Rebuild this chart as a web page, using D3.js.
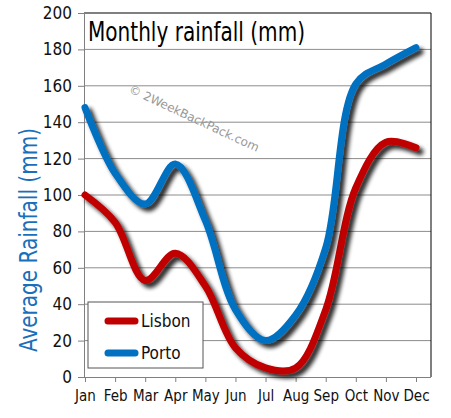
<!DOCTYPE html>
<html><head><meta charset="utf-8">
<script src="https://cdn.jsdelivr.net/npm/d3@7"></script>
<style>body{margin:0;background:#fff}svg{display:block}</style>
</head><body>
<svg id="c" width="451" height="418"></svg>
<script>
const months = ["Jan","Feb","Mar","Apr","May","Jun","Jul","Aug","Sep","Oct","Nov","Dec"];
const lisbon = [100, 85, 53, 68, 50, 16, 5, 5, 37, 104, 129, 126];
const porto  = [148, 112, 95, 117, 86, 37, 20, 34, 71, 161, 172, 181];
const yTicks = [0,20,40,60,80,100,120,140,160,180,200];
const seriesNames = ["Lisbon","Porto"];
const colors = ["#C00000","#0070C0"];

const svg = d3.select("#c");
const L = 84, R = 431, T = 13, B = 377;
const x = d3.scalePoint().domain(months).range([85, 416]);
const y = d3.scaleLinear().domain([0,200]).range([B, T]);
const font = "'DejaVu Sans Condensed','DejaVu Sans',sans-serif";

const defs = svg.append("defs");
const f = defs.append("filter").attr("id","sh").attr("x","-20%").attr("y","-20%").attr("width","140%").attr("height","140%");
f.append("feGaussianBlur").attr("in","SourceAlpha").attr("stdDeviation",2.2).attr("result","b");
f.append("feOffset").attr("in","b").attr("dx",4).attr("dy",4).attr("result","o");
f.append("feComponentTransfer").attr("in","o").attr("result","o2")
  .append("feFuncA").attr("type","linear").attr("slope",0.85);
const m = f.append("feMerge");
m.append("feMergeNode").attr("in","o2");
m.append("feMergeNode").attr("in","SourceGraphic");

// gridlines
svg.append("g").selectAll("line").data(yTicks.filter(d=>d>0 && d<200)).join("line")
  .attr("x1",L).attr("x2",R).attr("y1",d=>y(d)).attr("y2",d=>y(d))
  .attr("stroke","#8c8c8c").attr("stroke-width",1);

// border top/right
svg.append("line").attr("x1",L).attr("x2",R).attr("y1",y(200)).attr("y2",y(200)).attr("stroke","#000");
svg.append("line").attr("x1",R).attr("x2",R).attr("y1",y(200)).attr("y2",B).attr("stroke","#000");

// y axis
const ya = svg.append("g").attr("transform",`translate(${L},0)`)
  .call(d3.axisLeft(y).tickValues(yTicks).tickSize(6).tickPadding(6));
ya.select(".domain").attr("stroke","#808080");
ya.selectAll(".tick line").attr("stroke","#808080");
ya.selectAll("text").attr("font-family",font).attr("font-size",17).attr("fill","#111");

// x axis
const xa = svg.append("g").attr("transform",`translate(0,${B})`)
  .call(d3.axisBottom(x).tickSize(5).tickPadding(8));
xa.select(".domain").attr("d",`M${L},0.5H${R}`).attr("stroke","#808080");
xa.selectAll(".tick line").attr("stroke","#808080");
xa.selectAll("text").attr("font-family",font).attr("font-size",15).attr("fill","#111");

// watermark
svg.append("text").attr("transform","translate(128,92) rotate(25)")
  .attr("font-family","'DejaVu Sans',sans-serif").attr("font-size",12).attr("fill","#999")
  .attr("textLength",142).attr("lengthAdjust","spacingAndGlyphs")
  .text("© 2WeekBackPack.com");

// title
svg.append("text").attr("x",88).attr("y",41).attr("font-family",font).attr("font-size",26)
  .attr("fill","#000").attr("textLength",217).attr("lengthAdjust","spacingAndGlyphs")
  .text("Monthly rainfall (mm)");

// y axis title
svg.append("text").attr("transform","translate(37,240) rotate(-90)").attr("text-anchor","middle")
  .attr("font-family",font).attr("font-size",25).attr("fill","#1a6fbb")
  .attr("textLength",224).attr("lengthAdjust","spacingAndGlyphs")
  .text("Average Rainfall (mm)");

// lines
const line = d3.line().x((d,i)=>x(months[i])).y(d=>y(d)).curve(d3.curveCatmullRom.alpha(0.5));
[lisbon, porto].forEach((s,k)=>{
  svg.append("path").datum(s).attr("d",line).attr("fill","none")
    .attr("stroke",colors[k]).attr("stroke-width",7).attr("stroke-linecap","round")
    .attr("stroke-linejoin","round").attr("filter","url(#sh)");
});

// legend
const lg = svg.append("g");
lg.append("rect").attr("x",88).attr("y",302).attr("width",115).attr("height",66)
  .attr("fill","#fff").attr("stroke","#555").attr("stroke-width",1);
seriesNames.forEach((n,k)=>{
  const yy = 321 + k*32;
  lg.append("line").attr("x1",108).attr("x2",135).attr("y1",yy).attr("y2",yy)
    .attr("stroke",colors[k]).attr("stroke-width",7).attr("stroke-linecap","round");
  lg.append("text").attr("x",141).attr("y",yy+6).attr("font-family",font).attr("font-size",17)
    .attr("fill","#111").text(n);
});
</script>
</body></html>
